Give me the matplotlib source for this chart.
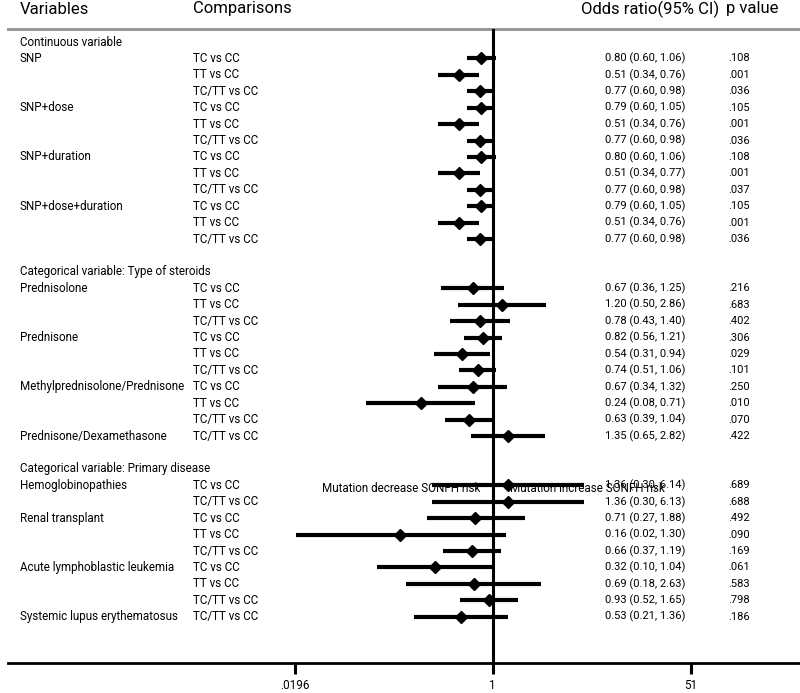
import numpy as np
import matplotlib.pyplot as plt
from matplotlib.ticker import NullLocator

plt.rcParams['font.family'] = ['Roboto', 'DejaVu Sans']

# left column: section headers / variable names ("" = nothing)
left_col = [
    "Continuous variable",
    "SNP", "", "",
    "SNP+dose", "", "",
    "SNP+duration", "", "",
    "SNP+dose+duration", "", "",
    "",
    "Categorical variable: Type of steroids",
    "Prednisolone", "", "",
    "Prednisone", "", "",
    "Methylprednisolone/Prednisone", "", "",
    "Prednisone/Dexamethasone",
    "",
    "Categorical variable: Primary disease",
    "Hemoglobinopathies", "",
    "Renal transplant", "", "",
    "Acute lymphoblastic leukemia", "", "",
    "Systemic lupus erythematosus",
]
comparisons = [
    "",
    "TC vs CC", "TT vs CC", "TC/TT vs CC",
    "TC vs CC", "TT vs CC", "TC/TT vs CC",
    "TC vs CC", "TT vs CC", "TC/TT vs CC",
    "TC vs CC", "TT vs CC", "TC/TT vs CC",
    "",
    "",
    "TC vs CC", "TT vs CC", "TC/TT vs CC",
    "TC vs CC", "TT vs CC", "TC/TT vs CC",
    "TC vs CC", "TT vs CC", "TC/TT vs CC",
    "TC/TT vs CC",
    "",
    "",
    "TC vs CC", "TC/TT vs CC",
    "TC vs CC", "TT vs CC", "TC/TT vs CC",
    "TC vs CC", "TT vs CC", "TC/TT vs CC",
    "TC/TT vs CC",
]
nan = np.nan
odds = [nan,
        0.80, 0.51, 0.77, 0.79, 0.51, 0.77, 0.80, 0.51, 0.77, 0.79, 0.51, 0.77,
        nan, nan,
        0.67, 1.20, 0.78, 0.82, 0.54, 0.74, 0.67, 0.24, 0.63, 1.35,
        nan, nan,
        1.36, 1.36, 0.71, 0.16, 0.66, 0.32, 0.69, 0.93, 0.53]
ci_low = [nan,
          0.60, 0.34, 0.60, 0.60, 0.34, 0.60, 0.60, 0.34, 0.60, 0.60, 0.34, 0.60,
          nan, nan,
          0.36, 0.50, 0.43, 0.56, 0.31, 0.51, 0.34, 0.08, 0.39, 0.65,
          nan, nan,
          0.30, 0.30, 0.27, 0.02, 0.37, 0.10, 0.18, 0.52, 0.21]
ci_high = [nan,
           1.06, 0.76, 0.98, 1.05, 0.76, 0.98, 1.06, 0.77, 0.98, 1.05, 0.76, 0.98,
           nan, nan,
           1.25, 2.86, 1.40, 1.21, 0.94, 1.06, 1.32, 0.71, 1.04, 2.82,
           nan, nan,
           6.14, 6.13, 1.88, 1.30, 1.19, 1.04, 2.63, 1.65, 1.36]
p_values = ["",
            ".108", ".001", ".036", ".105", ".001", ".036",
            ".108", ".001", ".037", ".105", ".001", ".036",
            "", "",
            ".216", ".683", ".402", ".306", ".029", ".101",
            ".250", ".010", ".070", ".422",
            "", "",
            ".689", ".688", ".492", ".090", ".169",
            ".061", ".583", ".798", ".186"]
tick_vals = [0.0196, 1, 51]
tick_labels = [".0196", "1", "51"]

W, H = 800, 693
fig = plt.figure(figsize=(W / 100, H / 100), dpi=100)

# overlay for the text columns, in pixel units
bg = fig.add_axes([0, 0, 1, 1])
bg.set_xlim(0, W)
bg.set_ylim(H, 0)
bg.axis('off')

# forest panel: log axis, same vertical pixel units
ax = fig.add_axes([8 / W, (H - 663) / H, 792 / W, (663 - 29) / H])
ax.set_xscale('log')
ax.set_xlim(6.6e-5, 446.8)
ax.set_ylim(663, 29)
ax.patch.set_alpha(0)
for s in ['top', 'left', 'right']:
    ax.spines[s].set_visible(False)
ax.spines['bottom'].set_linewidth(2)
ax.set_yticks([])
ax.set_xticks(tick_vals)
ax.set_xticklabels(tick_labels, fontsize=8.4)
ax.xaxis.set_minor_locator(NullLocator())
ax.tick_params(axis='x', length=8, width=2.2, pad=3.5)

ax.axvline(1, color='black', lw=2.2)

row_y = 42 + 16.42 * np.arange(len(left_col))
fs = 8.4
fn = 8.0

for i in range(len(left_col)):
    y = row_y[i]
    if left_col[i]:
        bg.text(20, y, left_col[i], fontsize=fs, va='center', ha='left')
    if comparisons[i]:
        bg.text(193, y, comparisons[i], fontsize=fs, va='center', ha='left')
    if not np.isnan(odds[i]):
        ax.hlines(y, ci_low[i], ci_high[i], color='black', lw=3)
        ax.plot(odds[i], y, marker='D', ms=6.5, color='black')
        bg.text(685, y, f"{odds[i]:.2f} ({ci_low[i]:.2f}, {ci_high[i]:.2f})",
                fontsize=fn, va='center', ha='right')
        bg.text(728, y, p_values[i], fontsize=fn, va='center', ha='left')

# headers
hs = 12
bg.text(20, 9, "Variables", fontsize=hs, va='center', ha='left')
bg.text(193, 9, "Comparisons", fontsize=hs, va='center', ha='left')
bg.text(581, 9, "Odds ratio(95% CI)", fontsize=hs, va='center', ha='left')
bg.text(726, 9, "p value", fontsize=hs, va='center', ha='left')
bg.plot([8, 800], [29, 29], color='#999999', lw=2.2)

# direction labels
bg.text(480, 488, "Mutation decrease SONFH risk", fontsize=fs, va='center', ha='right')
bg.text(510, 488, "Mutation increase SONFH risk", fontsize=fs, va='center', ha='left')

fig.savefig("out.png", dpi=100)
